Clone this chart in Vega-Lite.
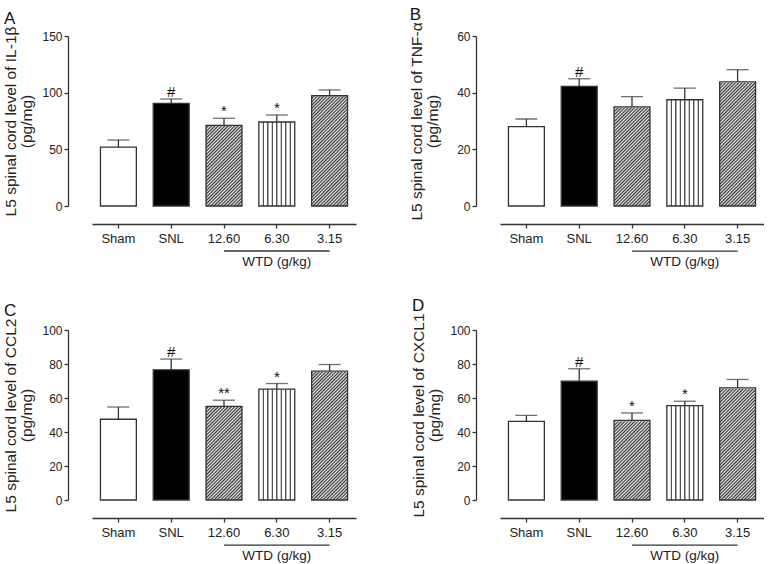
{
"$schema":"https://vega.github.io/schema/vega-lite/v6.json",
"background":"white",
"padding":{"left":3,"top":5,"right":0,"bottom":0},
"datasets":{"d":[
{"panel":"A","group":"Sham","mean":52.0,"upper":58.2,"sig":""},
{"panel":"A","group":"SNL","mean":90.6,"upper":94.4,"sig":"#"},
{"panel":"A","group":"12.60","mean":71.2,"upper":77.4,"sig":"*"},
{"panel":"A","group":"6.30","mean":74.1,"upper":80.3,"sig":"*"},
{"panel":"A","group":"3.15","mean":97.3,"upper":102.4,"sig":""},
{"panel":"B","group":"Sham","mean":28.0,"upper":30.7,"sig":""},
{"panel":"B","group":"SNL","mean":42.2,"upper":44.9,"sig":"#"},
{"panel":"B","group":"12.60","mean":35.0,"upper":38.6,"sig":""},
{"panel":"B","group":"6.30","mean":37.5,"upper":41.6,"sig":""},
{"panel":"B","group":"3.15","mean":43.8,"upper":48.1,"sig":""},
{"panel":"C","group":"Sham","mean":47.5,"upper":54.7,"sig":""},
{"panel":"C","group":"SNL","mean":76.6,"upper":82.9,"sig":"#"},
{"panel":"C","group":"12.60","mean":55.1,"upper":58.7,"sig":"**"},
{"panel":"C","group":"6.30","mean":65.2,"upper":68.5,"sig":"*"},
{"panel":"C","group":"3.15","mean":75.8,"upper":79.7,"sig":""},
{"panel":"D","group":"Sham","mean":46.2,"upper":49.8,"sig":""},
{"panel":"D","group":"SNL","mean":69.9,"upper":77.2,"sig":"#"},
{"panel":"D","group":"12.60","mean":46.8,"upper":51.2,"sig":"*"},
{"panel":"D","group":"6.30","mean":55.5,"upper":58.1,"sig":"*"},
{"panel":"D","group":"3.15","mean":65.9,"upper":70.9,"sig":""}
]},
"columns":2,
"spacing":{"row":27,"column":53},
"concat":[
{
"title":{"text":"A"},
"width":264,"height":170,
"data":{"name":"d"},
"transform":[{"filter":"datum.panel == 'A'"}],
"encoding":{"x":{"field":"group","type":"nominal","sort":["Sham","SNL","12.60","6.30","3.15"],"scale":{"paddingInner":0.32,"paddingOuter":0.16},"axis":{"title":null}},
"y":{"field":"mean","type":"quantitative","scale":{"domain":[0,150],"nice":false},"axis":{"values":[0,50,100,150],"labelOverlap":false,"title":["L5 spinal cord level of IL-1β","(pg/mg)"],"titlePadding":7}}},
"layer":[
{"transform":[{"filter":"datum.group == 'Sham' || datum.group == 'SNL'"}],"mark":{"type":"bar"},"encoding":{"fill":{"field":"group","type":"nominal","scale":{"domain":["Sham","SNL"],"range":["#ffffff","#000000"]},"legend":null}}},
{"transform":[{"filter":"datum.group == '6.30'"}],"mark":{"type":"bar","fill":{"gradient":"linear","x1":0,"y1":0,"x2":1,"y2":0,"stops":[{"offset":0,"color":"#fff"},{"offset":0.099,"color":"#fff"},{"offset":0.113,"color":"#555"},{"offset":0.137,"color":"#555"},{"offset":0.151,"color":"#fff"},{"offset":0.224,"color":"#fff"},{"offset":0.238,"color":"#555"},{"offset":0.262,"color":"#555"},{"offset":0.276,"color":"#fff"},{"offset":0.349,"color":"#fff"},{"offset":0.363,"color":"#555"},{"offset":0.387,"color":"#555"},{"offset":0.401,"color":"#fff"},{"offset":0.474,"color":"#fff"},{"offset":0.488,"color":"#555"},{"offset":0.512,"color":"#555"},{"offset":0.526,"color":"#fff"},{"offset":0.599,"color":"#fff"},{"offset":0.613,"color":"#555"},{"offset":0.637,"color":"#555"},{"offset":0.651,"color":"#fff"},{"offset":0.724,"color":"#fff"},{"offset":0.738,"color":"#555"},{"offset":0.762,"color":"#555"},{"offset":0.776,"color":"#fff"},{"offset":0.849,"color":"#fff"},{"offset":0.863,"color":"#555"},{"offset":0.887,"color":"#555"},{"offset":0.901,"color":"#fff"},{"offset":1,"color":"#fff"}]}}},
{"transform":[{"filter":"datum.group == '12.60' || datum.group == '3.15'"}],"mark":{"type":"bar","fill":{"gradient":"linear","x1":0,"y1":0,"x2":0.2449,"y2":1.1596,"stops":[{"offset":0,"color":"#333"},{"offset":0.008,"color":"#eee"},{"offset":0.016,"color":"#333"},{"offset":0.024,"color":"#eee"},{"offset":0.032,"color":"#333"},{"offset":0.04,"color":"#eee"},{"offset":0.048,"color":"#333"},{"offset":0.056,"color":"#eee"},{"offset":0.064,"color":"#333"},{"offset":0.072,"color":"#eee"},{"offset":0.08,"color":"#333"},{"offset":0.088,"color":"#eee"},{"offset":0.096,"color":"#333"},{"offset":0.104,"color":"#eee"},{"offset":0.112,"color":"#333"},{"offset":0.12,"color":"#eee"},{"offset":0.128,"color":"#333"},{"offset":0.136,"color":"#eee"},{"offset":0.144,"color":"#333"},{"offset":0.152,"color":"#eee"},{"offset":0.16,"color":"#333"},{"offset":0.168,"color":"#eee"},{"offset":0.176,"color":"#333"},{"offset":0.184,"color":"#eee"},{"offset":0.192,"color":"#333"},{"offset":0.2,"color":"#eee"},{"offset":0.208,"color":"#333"},{"offset":0.216,"color":"#eee"},{"offset":0.224,"color":"#333"},{"offset":0.232,"color":"#eee"},{"offset":0.24,"color":"#333"},{"offset":0.248,"color":"#eee"},{"offset":0.256,"color":"#333"},{"offset":0.264,"color":"#eee"},{"offset":0.272,"color":"#333"},{"offset":0.28,"color":"#eee"},{"offset":0.288,"color":"#333"},{"offset":0.296,"color":"#eee"},{"offset":0.304,"color":"#333"},{"offset":0.312,"color":"#eee"},{"offset":0.32,"color":"#333"},{"offset":0.328,"color":"#eee"},{"offset":0.336,"color":"#333"},{"offset":0.344,"color":"#eee"},{"offset":0.352,"color":"#333"},{"offset":0.36,"color":"#eee"},{"offset":0.368,"color":"#333"},{"offset":0.376,"color":"#eee"},{"offset":0.384,"color":"#333"},{"offset":0.392,"color":"#eee"},{"offset":0.4,"color":"#333"},{"offset":0.408,"color":"#eee"},{"offset":0.416,"color":"#333"},{"offset":0.424,"color":"#eee"},{"offset":0.432,"color":"#333"},{"offset":0.44,"color":"#eee"},{"offset":0.448,"color":"#333"},{"offset":0.456,"color":"#eee"},{"offset":0.464,"color":"#333"},{"offset":0.472,"color":"#eee"},{"offset":0.48,"color":"#333"},{"offset":0.488,"color":"#eee"},{"offset":0.496,"color":"#333"},{"offset":0.504,"color":"#eee"},{"offset":0.512,"color":"#333"},{"offset":0.52,"color":"#eee"},{"offset":0.528,"color":"#333"},{"offset":0.536,"color":"#eee"},{"offset":0.544,"color":"#333"},{"offset":0.552,"color":"#eee"},{"offset":0.56,"color":"#333"},{"offset":0.568,"color":"#eee"},{"offset":0.576,"color":"#333"},{"offset":0.584,"color":"#eee"},{"offset":0.592,"color":"#333"},{"offset":0.6,"color":"#eee"},{"offset":0.608,"color":"#333"},{"offset":0.616,"color":"#eee"},{"offset":0.624,"color":"#333"},{"offset":0.632,"color":"#eee"},{"offset":0.64,"color":"#333"},{"offset":0.648,"color":"#eee"},{"offset":0.656,"color":"#333"},{"offset":0.664,"color":"#eee"},{"offset":0.672,"color":"#333"},{"offset":0.68,"color":"#eee"},{"offset":0.688,"color":"#333"},{"offset":0.696,"color":"#eee"},{"offset":0.704,"color":"#333"},{"offset":0.712,"color":"#eee"},{"offset":0.72,"color":"#333"},{"offset":0.728,"color":"#eee"},{"offset":0.736,"color":"#333"},{"offset":0.744,"color":"#eee"},{"offset":0.752,"color":"#333"},{"offset":0.76,"color":"#eee"},{"offset":0.768,"color":"#333"},{"offset":0.776,"color":"#eee"},{"offset":0.784,"color":"#333"},{"offset":0.792,"color":"#eee"},{"offset":0.8,"color":"#333"},{"offset":0.808,"color":"#eee"},{"offset":0.816,"color":"#333"},{"offset":0.824,"color":"#eee"},{"offset":0.832,"color":"#333"},{"offset":0.84,"color":"#eee"},{"offset":0.848,"color":"#333"},{"offset":0.856,"color":"#eee"},{"offset":0.864,"color":"#333"},{"offset":0.872,"color":"#eee"},{"offset":0.88,"color":"#333"},{"offset":0.888,"color":"#eee"},{"offset":0.896,"color":"#333"},{"offset":0.904,"color":"#eee"},{"offset":0.912,"color":"#333"},{"offset":0.92,"color":"#eee"},{"offset":0.928,"color":"#333"},{"offset":0.936,"color":"#eee"},{"offset":0.944,"color":"#333"},{"offset":0.952,"color":"#eee"},{"offset":0.96,"color":"#333"},{"offset":0.968,"color":"#eee"},{"offset":0.976,"color":"#333"},{"offset":0.984,"color":"#eee"},{"offset":0.992,"color":"#333"},{"offset":1,"color":"#eee"}]}},"encoding":{"y":{"datum":150,"type":"quantitative","axis":{"values":[0,50,100,150],"labelOverlap":false,"title":["L5 spinal cord level of IL-1β","(pg/mg)"],"titlePadding":7}},"y2":{"datum":0}}},
{"transform":[{"filter":"datum.group == '12.60' || datum.group == '3.15'"}],"mark":{"type":"bar","fill":"#ffffff","stroke":"#ffffff","strokeWidth":1.5},"encoding":{"y2":{"datum":150}}},
{"mark":{"type":"bar","fillOpacity":0,"stroke":"#333","strokeWidth":1.3}},
{"mark":{"type":"rule","color":"#333","strokeWidth":1.3},"encoding":{"y2":{"field":"upper"}}},
{"mark":{"type":"tick","color":"#333","thickness":1.3,"size":22,"orient":"horizontal"},"encoding":{"y":{"field":"upper","type":"quantitative","axis":{"values":[0,50,100,150],"labelOverlap":false,"title":["L5 spinal cord level of IL-1β","(pg/mg)"],"titlePadding":7}}}},
{"mark":{"type":"text","fontSize":15,"dy":-2,"baseline":"alphabetic","color":"#111"},"encoding":{"y":{"field":"upper","type":"quantitative","axis":{"values":[0,50,100,150],"labelOverlap":false,"title":["L5 spinal cord level of IL-1β","(pg/mg)"],"titlePadding":7}},"text":{"field":"sig"}}},
{"transform":[{"filter":"datum.group == '6.30'"}],"mark":{"type":"rule","color":"#333","strokeWidth":1.3},"encoding":{"x":{"datum":"12.60","bandPosition":0.5},"x2":{"datum":"3.15","bandPosition":0.5},"y":{"datum":-39.7,"type":"quantitative","axis":{"values":[0,50,100,150],"labelOverlap":false,"title":["L5 spinal cord level of IL-1β","(pg/mg)"],"titlePadding":7}}}},
{"transform":[{"filter":"datum.group == '6.30'"}],"mark":{"type":"text","fontSize":13.5,"baseline":"top","dy":4,"color":"#222"},"encoding":{"text":{"value":"WTD (g/kg)"},"y":{"datum":-39.7,"type":"quantitative","axis":{"values":[0,50,100,150],"labelOverlap":false,"title":["L5 spinal cord level of IL-1β","(pg/mg)"],"titlePadding":7}}}}
]
},
{
"title":{"text":"B"},
"width":264,"height":170,
"data":{"name":"d"},
"transform":[{"filter":"datum.panel == 'B'"}],
"encoding":{"x":{"field":"group","type":"nominal","sort":["Sham","SNL","12.60","6.30","3.15"],"scale":{"paddingInner":0.32,"paddingOuter":0.16},"axis":{"title":null}},
"y":{"field":"mean","type":"quantitative","scale":{"domain":[0,60],"nice":false},"axis":{"values":[0,20,40,60],"labelOverlap":false,"title":["L5 spinal cord level of TNF-α","(pg/mg)"],"titlePadding":16}}},
"layer":[
{"transform":[{"filter":"datum.group == 'Sham' || datum.group == 'SNL'"}],"mark":{"type":"bar"},"encoding":{"fill":{"field":"group","type":"nominal","scale":{"domain":["Sham","SNL"],"range":["#ffffff","#000000"]},"legend":null}}},
{"transform":[{"filter":"datum.group == '6.30'"}],"mark":{"type":"bar","fill":{"gradient":"linear","x1":0,"y1":0,"x2":1,"y2":0,"stops":[{"offset":0,"color":"#fff"},{"offset":0.099,"color":"#fff"},{"offset":0.113,"color":"#555"},{"offset":0.137,"color":"#555"},{"offset":0.151,"color":"#fff"},{"offset":0.224,"color":"#fff"},{"offset":0.238,"color":"#555"},{"offset":0.262,"color":"#555"},{"offset":0.276,"color":"#fff"},{"offset":0.349,"color":"#fff"},{"offset":0.363,"color":"#555"},{"offset":0.387,"color":"#555"},{"offset":0.401,"color":"#fff"},{"offset":0.474,"color":"#fff"},{"offset":0.488,"color":"#555"},{"offset":0.512,"color":"#555"},{"offset":0.526,"color":"#fff"},{"offset":0.599,"color":"#fff"},{"offset":0.613,"color":"#555"},{"offset":0.637,"color":"#555"},{"offset":0.651,"color":"#fff"},{"offset":0.724,"color":"#fff"},{"offset":0.738,"color":"#555"},{"offset":0.762,"color":"#555"},{"offset":0.776,"color":"#fff"},{"offset":0.849,"color":"#fff"},{"offset":0.863,"color":"#555"},{"offset":0.887,"color":"#555"},{"offset":0.901,"color":"#fff"},{"offset":1,"color":"#fff"}]}}},
{"transform":[{"filter":"datum.group == '12.60' || datum.group == '3.15'"}],"mark":{"type":"bar","fill":{"gradient":"linear","x1":0,"y1":0,"x2":0.2449,"y2":1.1596,"stops":[{"offset":0,"color":"#333"},{"offset":0.008,"color":"#eee"},{"offset":0.016,"color":"#333"},{"offset":0.024,"color":"#eee"},{"offset":0.032,"color":"#333"},{"offset":0.04,"color":"#eee"},{"offset":0.048,"color":"#333"},{"offset":0.056,"color":"#eee"},{"offset":0.064,"color":"#333"},{"offset":0.072,"color":"#eee"},{"offset":0.08,"color":"#333"},{"offset":0.088,"color":"#eee"},{"offset":0.096,"color":"#333"},{"offset":0.104,"color":"#eee"},{"offset":0.112,"color":"#333"},{"offset":0.12,"color":"#eee"},{"offset":0.128,"color":"#333"},{"offset":0.136,"color":"#eee"},{"offset":0.144,"color":"#333"},{"offset":0.152,"color":"#eee"},{"offset":0.16,"color":"#333"},{"offset":0.168,"color":"#eee"},{"offset":0.176,"color":"#333"},{"offset":0.184,"color":"#eee"},{"offset":0.192,"color":"#333"},{"offset":0.2,"color":"#eee"},{"offset":0.208,"color":"#333"},{"offset":0.216,"color":"#eee"},{"offset":0.224,"color":"#333"},{"offset":0.232,"color":"#eee"},{"offset":0.24,"color":"#333"},{"offset":0.248,"color":"#eee"},{"offset":0.256,"color":"#333"},{"offset":0.264,"color":"#eee"},{"offset":0.272,"color":"#333"},{"offset":0.28,"color":"#eee"},{"offset":0.288,"color":"#333"},{"offset":0.296,"color":"#eee"},{"offset":0.304,"color":"#333"},{"offset":0.312,"color":"#eee"},{"offset":0.32,"color":"#333"},{"offset":0.328,"color":"#eee"},{"offset":0.336,"color":"#333"},{"offset":0.344,"color":"#eee"},{"offset":0.352,"color":"#333"},{"offset":0.36,"color":"#eee"},{"offset":0.368,"color":"#333"},{"offset":0.376,"color":"#eee"},{"offset":0.384,"color":"#333"},{"offset":0.392,"color":"#eee"},{"offset":0.4,"color":"#333"},{"offset":0.408,"color":"#eee"},{"offset":0.416,"color":"#333"},{"offset":0.424,"color":"#eee"},{"offset":0.432,"color":"#333"},{"offset":0.44,"color":"#eee"},{"offset":0.448,"color":"#333"},{"offset":0.456,"color":"#eee"},{"offset":0.464,"color":"#333"},{"offset":0.472,"color":"#eee"},{"offset":0.48,"color":"#333"},{"offset":0.488,"color":"#eee"},{"offset":0.496,"color":"#333"},{"offset":0.504,"color":"#eee"},{"offset":0.512,"color":"#333"},{"offset":0.52,"color":"#eee"},{"offset":0.528,"color":"#333"},{"offset":0.536,"color":"#eee"},{"offset":0.544,"color":"#333"},{"offset":0.552,"color":"#eee"},{"offset":0.56,"color":"#333"},{"offset":0.568,"color":"#eee"},{"offset":0.576,"color":"#333"},{"offset":0.584,"color":"#eee"},{"offset":0.592,"color":"#333"},{"offset":0.6,"color":"#eee"},{"offset":0.608,"color":"#333"},{"offset":0.616,"color":"#eee"},{"offset":0.624,"color":"#333"},{"offset":0.632,"color":"#eee"},{"offset":0.64,"color":"#333"},{"offset":0.648,"color":"#eee"},{"offset":0.656,"color":"#333"},{"offset":0.664,"color":"#eee"},{"offset":0.672,"color":"#333"},{"offset":0.68,"color":"#eee"},{"offset":0.688,"color":"#333"},{"offset":0.696,"color":"#eee"},{"offset":0.704,"color":"#333"},{"offset":0.712,"color":"#eee"},{"offset":0.72,"color":"#333"},{"offset":0.728,"color":"#eee"},{"offset":0.736,"color":"#333"},{"offset":0.744,"color":"#eee"},{"offset":0.752,"color":"#333"},{"offset":0.76,"color":"#eee"},{"offset":0.768,"color":"#333"},{"offset":0.776,"color":"#eee"},{"offset":0.784,"color":"#333"},{"offset":0.792,"color":"#eee"},{"offset":0.8,"color":"#333"},{"offset":0.808,"color":"#eee"},{"offset":0.816,"color":"#333"},{"offset":0.824,"color":"#eee"},{"offset":0.832,"color":"#333"},{"offset":0.84,"color":"#eee"},{"offset":0.848,"color":"#333"},{"offset":0.856,"color":"#eee"},{"offset":0.864,"color":"#333"},{"offset":0.872,"color":"#eee"},{"offset":0.88,"color":"#333"},{"offset":0.888,"color":"#eee"},{"offset":0.896,"color":"#333"},{"offset":0.904,"color":"#eee"},{"offset":0.912,"color":"#333"},{"offset":0.92,"color":"#eee"},{"offset":0.928,"color":"#333"},{"offset":0.936,"color":"#eee"},{"offset":0.944,"color":"#333"},{"offset":0.952,"color":"#eee"},{"offset":0.96,"color":"#333"},{"offset":0.968,"color":"#eee"},{"offset":0.976,"color":"#333"},{"offset":0.984,"color":"#eee"},{"offset":0.992,"color":"#333"},{"offset":1,"color":"#eee"}]}},"encoding":{"y":{"datum":60,"type":"quantitative","axis":{"values":[0,20,40,60],"labelOverlap":false,"title":["L5 spinal cord level of TNF-α","(pg/mg)"],"titlePadding":16}},"y2":{"datum":0}}},
{"transform":[{"filter":"datum.group == '12.60' || datum.group == '3.15'"}],"mark":{"type":"bar","fill":"#ffffff","stroke":"#ffffff","strokeWidth":1.5},"encoding":{"y2":{"datum":60}}},
{"mark":{"type":"bar","fillOpacity":0,"stroke":"#333","strokeWidth":1.3}},
{"mark":{"type":"rule","color":"#333","strokeWidth":1.3},"encoding":{"y2":{"field":"upper"}}},
{"mark":{"type":"tick","color":"#333","thickness":1.3,"size":22,"orient":"horizontal"},"encoding":{"y":{"field":"upper","type":"quantitative","axis":{"values":[0,20,40,60],"labelOverlap":false,"title":["L5 spinal cord level of TNF-α","(pg/mg)"],"titlePadding":16}}}},
{"mark":{"type":"text","fontSize":15,"dy":-2,"baseline":"alphabetic","color":"#111"},"encoding":{"y":{"field":"upper","type":"quantitative","axis":{"values":[0,20,40,60],"labelOverlap":false,"title":["L5 spinal cord level of TNF-α","(pg/mg)"],"titlePadding":16}},"text":{"field":"sig"}}},
{"transform":[{"filter":"datum.group == '6.30'"}],"mark":{"type":"rule","color":"#333","strokeWidth":1.3},"encoding":{"x":{"datum":"12.60","bandPosition":0.5},"x2":{"datum":"3.15","bandPosition":0.5},"y":{"datum":-15.9,"type":"quantitative","axis":{"values":[0,20,40,60],"labelOverlap":false,"title":["L5 spinal cord level of TNF-α","(pg/mg)"],"titlePadding":16}}}},
{"transform":[{"filter":"datum.group == '6.30'"}],"mark":{"type":"text","fontSize":13.5,"baseline":"top","dy":4,"color":"#222"},"encoding":{"text":{"value":"WTD (g/kg)"},"y":{"datum":-15.9,"type":"quantitative","axis":{"values":[0,20,40,60],"labelOverlap":false,"title":["L5 spinal cord level of TNF-α","(pg/mg)"],"titlePadding":16}}}}
]
},
{
"title":{"text":"C"},
"width":264,"height":170,
"data":{"name":"d"},
"transform":[{"filter":"datum.panel == 'C'"}],
"encoding":{"x":{"field":"group","type":"nominal","sort":["Sham","SNL","12.60","6.30","3.15"],"scale":{"paddingInner":0.32,"paddingOuter":0.16},"axis":{"title":null}},
"y":{"field":"mean","type":"quantitative","scale":{"domain":[0,100],"nice":false},"axis":{"values":[0,20,40,60,80,100],"labelOverlap":false,"title":["L5 spinal cord level of CCL2","(pg/mg)"],"titlePadding":7}}},
"layer":[
{"transform":[{"filter":"datum.group == 'Sham' || datum.group == 'SNL'"}],"mark":{"type":"bar"},"encoding":{"fill":{"field":"group","type":"nominal","scale":{"domain":["Sham","SNL"],"range":["#ffffff","#000000"]},"legend":null}}},
{"transform":[{"filter":"datum.group == '6.30'"}],"mark":{"type":"bar","fill":{"gradient":"linear","x1":0,"y1":0,"x2":1,"y2":0,"stops":[{"offset":0,"color":"#fff"},{"offset":0.099,"color":"#fff"},{"offset":0.113,"color":"#555"},{"offset":0.137,"color":"#555"},{"offset":0.151,"color":"#fff"},{"offset":0.224,"color":"#fff"},{"offset":0.238,"color":"#555"},{"offset":0.262,"color":"#555"},{"offset":0.276,"color":"#fff"},{"offset":0.349,"color":"#fff"},{"offset":0.363,"color":"#555"},{"offset":0.387,"color":"#555"},{"offset":0.401,"color":"#fff"},{"offset":0.474,"color":"#fff"},{"offset":0.488,"color":"#555"},{"offset":0.512,"color":"#555"},{"offset":0.526,"color":"#fff"},{"offset":0.599,"color":"#fff"},{"offset":0.613,"color":"#555"},{"offset":0.637,"color":"#555"},{"offset":0.651,"color":"#fff"},{"offset":0.724,"color":"#fff"},{"offset":0.738,"color":"#555"},{"offset":0.762,"color":"#555"},{"offset":0.776,"color":"#fff"},{"offset":0.849,"color":"#fff"},{"offset":0.863,"color":"#555"},{"offset":0.887,"color":"#555"},{"offset":0.901,"color":"#fff"},{"offset":1,"color":"#fff"}]}}},
{"transform":[{"filter":"datum.group == '12.60' || datum.group == '3.15'"}],"mark":{"type":"bar","fill":{"gradient":"linear","x1":0,"y1":0,"x2":0.2449,"y2":1.1596,"stops":[{"offset":0,"color":"#333"},{"offset":0.008,"color":"#eee"},{"offset":0.016,"color":"#333"},{"offset":0.024,"color":"#eee"},{"offset":0.032,"color":"#333"},{"offset":0.04,"color":"#eee"},{"offset":0.048,"color":"#333"},{"offset":0.056,"color":"#eee"},{"offset":0.064,"color":"#333"},{"offset":0.072,"color":"#eee"},{"offset":0.08,"color":"#333"},{"offset":0.088,"color":"#eee"},{"offset":0.096,"color":"#333"},{"offset":0.104,"color":"#eee"},{"offset":0.112,"color":"#333"},{"offset":0.12,"color":"#eee"},{"offset":0.128,"color":"#333"},{"offset":0.136,"color":"#eee"},{"offset":0.144,"color":"#333"},{"offset":0.152,"color":"#eee"},{"offset":0.16,"color":"#333"},{"offset":0.168,"color":"#eee"},{"offset":0.176,"color":"#333"},{"offset":0.184,"color":"#eee"},{"offset":0.192,"color":"#333"},{"offset":0.2,"color":"#eee"},{"offset":0.208,"color":"#333"},{"offset":0.216,"color":"#eee"},{"offset":0.224,"color":"#333"},{"offset":0.232,"color":"#eee"},{"offset":0.24,"color":"#333"},{"offset":0.248,"color":"#eee"},{"offset":0.256,"color":"#333"},{"offset":0.264,"color":"#eee"},{"offset":0.272,"color":"#333"},{"offset":0.28,"color":"#eee"},{"offset":0.288,"color":"#333"},{"offset":0.296,"color":"#eee"},{"offset":0.304,"color":"#333"},{"offset":0.312,"color":"#eee"},{"offset":0.32,"color":"#333"},{"offset":0.328,"color":"#eee"},{"offset":0.336,"color":"#333"},{"offset":0.344,"color":"#eee"},{"offset":0.352,"color":"#333"},{"offset":0.36,"color":"#eee"},{"offset":0.368,"color":"#333"},{"offset":0.376,"color":"#eee"},{"offset":0.384,"color":"#333"},{"offset":0.392,"color":"#eee"},{"offset":0.4,"color":"#333"},{"offset":0.408,"color":"#eee"},{"offset":0.416,"color":"#333"},{"offset":0.424,"color":"#eee"},{"offset":0.432,"color":"#333"},{"offset":0.44,"color":"#eee"},{"offset":0.448,"color":"#333"},{"offset":0.456,"color":"#eee"},{"offset":0.464,"color":"#333"},{"offset":0.472,"color":"#eee"},{"offset":0.48,"color":"#333"},{"offset":0.488,"color":"#eee"},{"offset":0.496,"color":"#333"},{"offset":0.504,"color":"#eee"},{"offset":0.512,"color":"#333"},{"offset":0.52,"color":"#eee"},{"offset":0.528,"color":"#333"},{"offset":0.536,"color":"#eee"},{"offset":0.544,"color":"#333"},{"offset":0.552,"color":"#eee"},{"offset":0.56,"color":"#333"},{"offset":0.568,"color":"#eee"},{"offset":0.576,"color":"#333"},{"offset":0.584,"color":"#eee"},{"offset":0.592,"color":"#333"},{"offset":0.6,"color":"#eee"},{"offset":0.608,"color":"#333"},{"offset":0.616,"color":"#eee"},{"offset":0.624,"color":"#333"},{"offset":0.632,"color":"#eee"},{"offset":0.64,"color":"#333"},{"offset":0.648,"color":"#eee"},{"offset":0.656,"color":"#333"},{"offset":0.664,"color":"#eee"},{"offset":0.672,"color":"#333"},{"offset":0.68,"color":"#eee"},{"offset":0.688,"color":"#333"},{"offset":0.696,"color":"#eee"},{"offset":0.704,"color":"#333"},{"offset":0.712,"color":"#eee"},{"offset":0.72,"color":"#333"},{"offset":0.728,"color":"#eee"},{"offset":0.736,"color":"#333"},{"offset":0.744,"color":"#eee"},{"offset":0.752,"color":"#333"},{"offset":0.76,"color":"#eee"},{"offset":0.768,"color":"#333"},{"offset":0.776,"color":"#eee"},{"offset":0.784,"color":"#333"},{"offset":0.792,"color":"#eee"},{"offset":0.8,"color":"#333"},{"offset":0.808,"color":"#eee"},{"offset":0.816,"color":"#333"},{"offset":0.824,"color":"#eee"},{"offset":0.832,"color":"#333"},{"offset":0.84,"color":"#eee"},{"offset":0.848,"color":"#333"},{"offset":0.856,"color":"#eee"},{"offset":0.864,"color":"#333"},{"offset":0.872,"color":"#eee"},{"offset":0.88,"color":"#333"},{"offset":0.888,"color":"#eee"},{"offset":0.896,"color":"#333"},{"offset":0.904,"color":"#eee"},{"offset":0.912,"color":"#333"},{"offset":0.92,"color":"#eee"},{"offset":0.928,"color":"#333"},{"offset":0.936,"color":"#eee"},{"offset":0.944,"color":"#333"},{"offset":0.952,"color":"#eee"},{"offset":0.96,"color":"#333"},{"offset":0.968,"color":"#eee"},{"offset":0.976,"color":"#333"},{"offset":0.984,"color":"#eee"},{"offset":0.992,"color":"#333"},{"offset":1,"color":"#eee"}]}},"encoding":{"y":{"datum":100,"type":"quantitative","axis":{"values":[0,20,40,60,80,100],"labelOverlap":false,"title":["L5 spinal cord level of CCL2","(pg/mg)"],"titlePadding":7}},"y2":{"datum":0}}},
{"transform":[{"filter":"datum.group == '12.60' || datum.group == '3.15'"}],"mark":{"type":"bar","fill":"#ffffff","stroke":"#ffffff","strokeWidth":1.5},"encoding":{"y2":{"datum":100}}},
{"mark":{"type":"bar","fillOpacity":0,"stroke":"#333","strokeWidth":1.3}},
{"mark":{"type":"rule","color":"#333","strokeWidth":1.3},"encoding":{"y2":{"field":"upper"}}},
{"mark":{"type":"tick","color":"#333","thickness":1.3,"size":22,"orient":"horizontal"},"encoding":{"y":{"field":"upper","type":"quantitative","axis":{"values":[0,20,40,60,80,100],"labelOverlap":false,"title":["L5 spinal cord level of CCL2","(pg/mg)"],"titlePadding":7}}}},
{"mark":{"type":"text","fontSize":15,"dy":-2,"baseline":"alphabetic","color":"#111"},"encoding":{"y":{"field":"upper","type":"quantitative","axis":{"values":[0,20,40,60,80,100],"labelOverlap":false,"title":["L5 spinal cord level of CCL2","(pg/mg)"],"titlePadding":7}},"text":{"field":"sig"}}},
{"transform":[{"filter":"datum.group == '6.30'"}],"mark":{"type":"rule","color":"#333","strokeWidth":1.3},"encoding":{"x":{"datum":"12.60","bandPosition":0.5},"x2":{"datum":"3.15","bandPosition":0.5},"y":{"datum":-26.5,"type":"quantitative","axis":{"values":[0,20,40,60,80,100],"labelOverlap":false,"title":["L5 spinal cord level of CCL2","(pg/mg)"],"titlePadding":7}}}},
{"transform":[{"filter":"datum.group == '6.30'"}],"mark":{"type":"text","fontSize":13.5,"baseline":"top","dy":4,"color":"#222"},"encoding":{"text":{"value":"WTD (g/kg)"},"y":{"datum":-26.5,"type":"quantitative","axis":{"values":[0,20,40,60,80,100],"labelOverlap":false,"title":["L5 spinal cord level of CCL2","(pg/mg)"],"titlePadding":7}}}}
]
},
{
"title":{"text":"D"},
"width":264,"height":170,
"data":{"name":"d"},
"transform":[{"filter":"datum.panel == 'D'"}],
"encoding":{"x":{"field":"group","type":"nominal","sort":["Sham","SNL","12.60","6.30","3.15"],"scale":{"paddingInner":0.32,"paddingOuter":0.16},"axis":{"title":null}},
"y":{"field":"mean","type":"quantitative","scale":{"domain":[0,100],"nice":false},"axis":{"values":[0,20,40,60,80,100],"labelOverlap":false,"title":["L5 spinal cord level of CXCL1","(pg/mg)"],"titlePadding":7}}},
"layer":[
{"transform":[{"filter":"datum.group == 'Sham' || datum.group == 'SNL'"}],"mark":{"type":"bar"},"encoding":{"fill":{"field":"group","type":"nominal","scale":{"domain":["Sham","SNL"],"range":["#ffffff","#000000"]},"legend":null}}},
{"transform":[{"filter":"datum.group == '6.30'"}],"mark":{"type":"bar","fill":{"gradient":"linear","x1":0,"y1":0,"x2":1,"y2":0,"stops":[{"offset":0,"color":"#fff"},{"offset":0.099,"color":"#fff"},{"offset":0.113,"color":"#555"},{"offset":0.137,"color":"#555"},{"offset":0.151,"color":"#fff"},{"offset":0.224,"color":"#fff"},{"offset":0.238,"color":"#555"},{"offset":0.262,"color":"#555"},{"offset":0.276,"color":"#fff"},{"offset":0.349,"color":"#fff"},{"offset":0.363,"color":"#555"},{"offset":0.387,"color":"#555"},{"offset":0.401,"color":"#fff"},{"offset":0.474,"color":"#fff"},{"offset":0.488,"color":"#555"},{"offset":0.512,"color":"#555"},{"offset":0.526,"color":"#fff"},{"offset":0.599,"color":"#fff"},{"offset":0.613,"color":"#555"},{"offset":0.637,"color":"#555"},{"offset":0.651,"color":"#fff"},{"offset":0.724,"color":"#fff"},{"offset":0.738,"color":"#555"},{"offset":0.762,"color":"#555"},{"offset":0.776,"color":"#fff"},{"offset":0.849,"color":"#fff"},{"offset":0.863,"color":"#555"},{"offset":0.887,"color":"#555"},{"offset":0.901,"color":"#fff"},{"offset":1,"color":"#fff"}]}}},
{"transform":[{"filter":"datum.group == '12.60' || datum.group == '3.15'"}],"mark":{"type":"bar","fill":{"gradient":"linear","x1":0,"y1":0,"x2":0.2449,"y2":1.1596,"stops":[{"offset":0,"color":"#333"},{"offset":0.008,"color":"#eee"},{"offset":0.016,"color":"#333"},{"offset":0.024,"color":"#eee"},{"offset":0.032,"color":"#333"},{"offset":0.04,"color":"#eee"},{"offset":0.048,"color":"#333"},{"offset":0.056,"color":"#eee"},{"offset":0.064,"color":"#333"},{"offset":0.072,"color":"#eee"},{"offset":0.08,"color":"#333"},{"offset":0.088,"color":"#eee"},{"offset":0.096,"color":"#333"},{"offset":0.104,"color":"#eee"},{"offset":0.112,"color":"#333"},{"offset":0.12,"color":"#eee"},{"offset":0.128,"color":"#333"},{"offset":0.136,"color":"#eee"},{"offset":0.144,"color":"#333"},{"offset":0.152,"color":"#eee"},{"offset":0.16,"color":"#333"},{"offset":0.168,"color":"#eee"},{"offset":0.176,"color":"#333"},{"offset":0.184,"color":"#eee"},{"offset":0.192,"color":"#333"},{"offset":0.2,"color":"#eee"},{"offset":0.208,"color":"#333"},{"offset":0.216,"color":"#eee"},{"offset":0.224,"color":"#333"},{"offset":0.232,"color":"#eee"},{"offset":0.24,"color":"#333"},{"offset":0.248,"color":"#eee"},{"offset":0.256,"color":"#333"},{"offset":0.264,"color":"#eee"},{"offset":0.272,"color":"#333"},{"offset":0.28,"color":"#eee"},{"offset":0.288,"color":"#333"},{"offset":0.296,"color":"#eee"},{"offset":0.304,"color":"#333"},{"offset":0.312,"color":"#eee"},{"offset":0.32,"color":"#333"},{"offset":0.328,"color":"#eee"},{"offset":0.336,"color":"#333"},{"offset":0.344,"color":"#eee"},{"offset":0.352,"color":"#333"},{"offset":0.36,"color":"#eee"},{"offset":0.368,"color":"#333"},{"offset":0.376,"color":"#eee"},{"offset":0.384,"color":"#333"},{"offset":0.392,"color":"#eee"},{"offset":0.4,"color":"#333"},{"offset":0.408,"color":"#eee"},{"offset":0.416,"color":"#333"},{"offset":0.424,"color":"#eee"},{"offset":0.432,"color":"#333"},{"offset":0.44,"color":"#eee"},{"offset":0.448,"color":"#333"},{"offset":0.456,"color":"#eee"},{"offset":0.464,"color":"#333"},{"offset":0.472,"color":"#eee"},{"offset":0.48,"color":"#333"},{"offset":0.488,"color":"#eee"},{"offset":0.496,"color":"#333"},{"offset":0.504,"color":"#eee"},{"offset":0.512,"color":"#333"},{"offset":0.52,"color":"#eee"},{"offset":0.528,"color":"#333"},{"offset":0.536,"color":"#eee"},{"offset":0.544,"color":"#333"},{"offset":0.552,"color":"#eee"},{"offset":0.56,"color":"#333"},{"offset":0.568,"color":"#eee"},{"offset":0.576,"color":"#333"},{"offset":0.584,"color":"#eee"},{"offset":0.592,"color":"#333"},{"offset":0.6,"color":"#eee"},{"offset":0.608,"color":"#333"},{"offset":0.616,"color":"#eee"},{"offset":0.624,"color":"#333"},{"offset":0.632,"color":"#eee"},{"offset":0.64,"color":"#333"},{"offset":0.648,"color":"#eee"},{"offset":0.656,"color":"#333"},{"offset":0.664,"color":"#eee"},{"offset":0.672,"color":"#333"},{"offset":0.68,"color":"#eee"},{"offset":0.688,"color":"#333"},{"offset":0.696,"color":"#eee"},{"offset":0.704,"color":"#333"},{"offset":0.712,"color":"#eee"},{"offset":0.72,"color":"#333"},{"offset":0.728,"color":"#eee"},{"offset":0.736,"color":"#333"},{"offset":0.744,"color":"#eee"},{"offset":0.752,"color":"#333"},{"offset":0.76,"color":"#eee"},{"offset":0.768,"color":"#333"},{"offset":0.776,"color":"#eee"},{"offset":0.784,"color":"#333"},{"offset":0.792,"color":"#eee"},{"offset":0.8,"color":"#333"},{"offset":0.808,"color":"#eee"},{"offset":0.816,"color":"#333"},{"offset":0.824,"color":"#eee"},{"offset":0.832,"color":"#333"},{"offset":0.84,"color":"#eee"},{"offset":0.848,"color":"#333"},{"offset":0.856,"color":"#eee"},{"offset":0.864,"color":"#333"},{"offset":0.872,"color":"#eee"},{"offset":0.88,"color":"#333"},{"offset":0.888,"color":"#eee"},{"offset":0.896,"color":"#333"},{"offset":0.904,"color":"#eee"},{"offset":0.912,"color":"#333"},{"offset":0.92,"color":"#eee"},{"offset":0.928,"color":"#333"},{"offset":0.936,"color":"#eee"},{"offset":0.944,"color":"#333"},{"offset":0.952,"color":"#eee"},{"offset":0.96,"color":"#333"},{"offset":0.968,"color":"#eee"},{"offset":0.976,"color":"#333"},{"offset":0.984,"color":"#eee"},{"offset":0.992,"color":"#333"},{"offset":1,"color":"#eee"}]}},"encoding":{"y":{"datum":100,"type":"quantitative","axis":{"values":[0,20,40,60,80,100],"labelOverlap":false,"title":["L5 spinal cord level of CXCL1","(pg/mg)"],"titlePadding":7}},"y2":{"datum":0}}},
{"transform":[{"filter":"datum.group == '12.60' || datum.group == '3.15'"}],"mark":{"type":"bar","fill":"#ffffff","stroke":"#ffffff","strokeWidth":1.5},"encoding":{"y2":{"datum":100}}},
{"mark":{"type":"bar","fillOpacity":0,"stroke":"#333","strokeWidth":1.3}},
{"mark":{"type":"rule","color":"#333","strokeWidth":1.3},"encoding":{"y2":{"field":"upper"}}},
{"mark":{"type":"tick","color":"#333","thickness":1.3,"size":22,"orient":"horizontal"},"encoding":{"y":{"field":"upper","type":"quantitative","axis":{"values":[0,20,40,60,80,100],"labelOverlap":false,"title":["L5 spinal cord level of CXCL1","(pg/mg)"],"titlePadding":7}}}},
{"mark":{"type":"text","fontSize":15,"dy":-2,"baseline":"alphabetic","color":"#111"},"encoding":{"y":{"field":"upper","type":"quantitative","axis":{"values":[0,20,40,60,80,100],"labelOverlap":false,"title":["L5 spinal cord level of CXCL1","(pg/mg)"],"titlePadding":7}},"text":{"field":"sig"}}},
{"transform":[{"filter":"datum.group == '6.30'"}],"mark":{"type":"rule","color":"#333","strokeWidth":1.3},"encoding":{"x":{"datum":"12.60","bandPosition":0.5},"x2":{"datum":"3.15","bandPosition":0.5},"y":{"datum":-26.5,"type":"quantitative","axis":{"values":[0,20,40,60,80,100],"labelOverlap":false,"title":["L5 spinal cord level of CXCL1","(pg/mg)"],"titlePadding":7}}}},
{"transform":[{"filter":"datum.group == '6.30'"}],"mark":{"type":"text","fontSize":13.5,"baseline":"top","dy":4,"color":"#222"},"encoding":{"text":{"value":"WTD (g/kg)"},"y":{"datum":-26.5,"type":"quantitative","axis":{"values":[0,20,40,60,80,100],"labelOverlap":false,"title":["L5 spinal cord level of CXCL1","(pg/mg)"],"titlePadding":7}}}}
]
}
],
"config":{
"view":{"stroke":null},
"font":"Liberation Sans",
"title":{"anchor":"start","frame":"bounds","fontSize":17,"fontWeight":"normal","offset":-2,"color":"#111","font":"Liberation Sans"},
"axis":{"grid":false,"domainColor":"#333","tickColor":"#333","labelColor":"#222","titleColor":"#222","domainWidth":1.3,"tickWidth":1.3,"tickSize":4,"labelFont":"Liberation Sans","titleFont":"Liberation Sans","titleFontWeight":"normal","labelOverlap":false},
"axisX":{"offset":18,"labelFontSize":13,"labelPadding":4,"labelAngle":0},
"axisY":{"offset":24,"labelFontSize":12,"labelPadding":2,"titleFontSize":15.5,"titleLineHeight":16}
}
}
